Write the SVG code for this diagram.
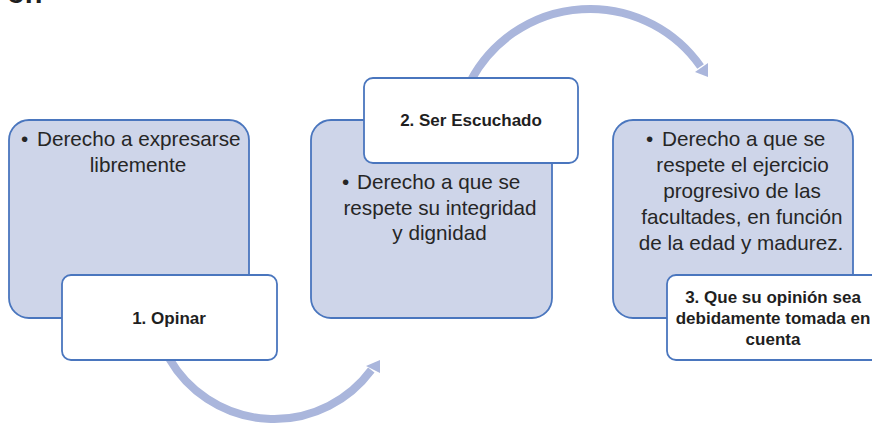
<svg xmlns="http://www.w3.org/2000/svg" width="872" height="425" viewBox="0 0 872 425">
<defs>
<style>
.bg{fill:#ffffff}
.blue{fill:#CED5E9;stroke:#4A76BE;stroke-width:1.8}
.white{fill:#ffffff;stroke:#4A76BE;stroke-width:1.8}
.arc{fill:none;stroke:#AAB6DC;stroke-width:8;stroke-linecap:butt}
.head{fill:#AAB6DC}
.t{font-family:"Liberation Sans",Arial,sans-serif;font-size:20.7px;fill:#262626}
.b{font-family:"Liberation Sans",Arial,sans-serif;font-size:17px;font-weight:bold;fill:#1f1f1f;text-anchor:middle}
.c{text-anchor:middle}
</style>
</defs>
<rect class="bg" x="0" y="0" width="872" height="425"/>
<text x="7" y="3" style="font-family:'Liberation Sans',Arial,sans-serif;font-size:29px;font-weight:bold;fill:#1f1f1f">ón</text>
<g id="connectors">
<path class="arc" d="M169.2,358.5 A121,121 0 0 0 371.3,370"/>
<polygon class="head" points="366,366 380,360 380,373"/>
<path class="arc" d="M470.8,80.6 A135,135 0 0 1 700.6,66.5"/>
<polygon class="head" points="695,72 708,63 708,77"/>
</g>
<g id="node1">
<rect class="blue" x="9" y="120" width="240" height="198" rx="20"/>
<text class="t" y="146"><tspan x="21">•</tspan><tspan x="37">Derecho a expresarse</tspan></text>
<text class="t c" x="138" y="172">libremente</text>
</g>
<g id="label1">
<rect class="white" x="62" y="275" width="215" height="85" rx="9"/>
<text class="b" x="169" y="324">1. Opinar</text>
</g>
<g id="node2">
<rect class="blue" x="311" y="120" width="241" height="198" rx="20"/>
<text class="t" y="189"><tspan x="342">•</tspan><tspan x="357">Derecho a que se</tspan></text>
<text class="t c" x="440" y="214.5">respete su integridad</text>
<text class="t c" x="439.5" y="240">y dignidad</text>
</g>
<g id="label2">
<rect class="white" x="364" y="78" width="214" height="85" rx="9"/>
<text class="b" x="471" y="126">2. Ser Escuchado</text>
</g>
<g id="node3">
<rect class="blue" x="613" y="120" width="240" height="198" rx="20"/>
<text class="t" y="146"><tspan x="646">•</tspan><tspan x="662">Derecho a que se</tspan></text>
<text class="t c" x="742.5" y="172">respete el ejercicio</text>
<text class="t c" x="742" y="198">progresivo de las</text>
<text class="t c" x="742" y="224">facultades, en función</text>
<text class="t c" x="741" y="250">de la edad y madurez.</text>
</g>
<g id="label3">
<rect class="white" x="667" y="275" width="215" height="85" rx="9"/>
<text class="b" x="773" y="302.5">3. Que su opinión sea</text>
<text class="b" x="773" y="323.5">debidamente tomada en</text>
<text class="b" x="773" y="344.5">cuenta</text>
</g>
</svg>
